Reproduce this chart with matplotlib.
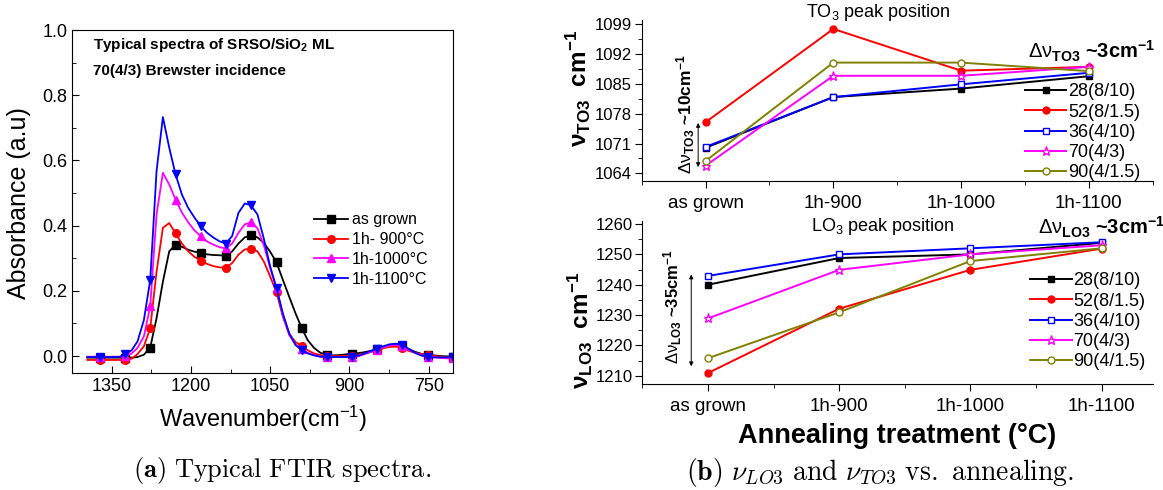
import matplotlib
matplotlib.use('Agg')
import matplotlib.pyplot as plt
import numpy as np

plt.rcParams['font.family'] = ['Liberation Sans', 'DejaVu Sans']
plt.rcParams['mathtext.fontset'] = 'custom'
plt.rcParams['mathtext.rm'] = 'Liberation Sans'
plt.rcParams['mathtext.it'] = 'Liberation Sans:italic'
plt.rcParams['mathtext.bf'] = 'Liberation Sans:bold'

# ---- data, panel (a): FTIR spectra
wn = [1396, 1384, 1372, 1360, 1348, 1336, 1324, 1312, 1301, 1289,
      1277, 1265, 1253, 1241, 1229, 1217, 1205, 1193, 1181, 1170,
      1158, 1146, 1134, 1122, 1110, 1098, 1086, 1074, 1062, 1050,
      1038, 1026, 1014, 1002, 990, 979, 967, 955, 943, 931,
      919, 907, 895, 883, 871, 859, 847, 836, 824, 812,
      800, 788, 776, 764, 752, 740, 728, 716, 704]

abs_grown = [-0.005, -0.005, -0.005, -0.005, -0.005, -0.005, -0.005, -0.005, -0.003, 0.004,
             0.026, 0.116, 0.228, 0.321, 0.342, 0.335, 0.326, 0.320, 0.316, 0.312,
             0.310, 0.309, 0.308, 0.321, 0.345, 0.364, 0.370, 0.364, 0.347, 0.320,
             0.287, 0.234, 0.182, 0.131, 0.085, 0.049, 0.025, 0.010, 0.004, 0.002,
             0.003, 0.005, 0.007, 0.009, 0.012, 0.016, 0.021, 0.027, 0.032, 0.034,
             0.031, 0.022, 0.013, 0.007, 0.004, 0.002, 0.0, -0.001, -0.002]

abs_900 = [-0.012, -0.012, -0.012, -0.012, -0.012, -0.012, -0.012, -0.008, 0.006, 0.030,
           0.085, 0.259, 0.393, 0.408, 0.376, 0.345, 0.321, 0.304, 0.293, 0.283,
           0.276, 0.272, 0.271, 0.285, 0.311, 0.327, 0.329, 0.321, 0.290, 0.244,
           0.195, 0.121, 0.068, 0.043, 0.030, 0.018, 0.008, 0.003, 0.001, 0.0,
           0.0, 0.0, 0.001, 0.004, 0.008, 0.013, 0.018, 0.024, 0.028, 0.029,
           0.024, 0.016, 0.010, 0.006, 0.004, 0.001, -0.002, -0.004, -0.005]

abs_1000 = [-0.002, -0.002, -0.002, -0.002, -0.002, -0.002, 0.0, 0.008, 0.025, 0.060,
            0.152, 0.434, 0.562, 0.526, 0.480, 0.440, 0.410, 0.385, 0.367, 0.352,
            0.342, 0.334, 0.330, 0.345, 0.378, 0.404, 0.410, 0.392, 0.340, 0.270,
            0.208, 0.125, 0.065, 0.035, 0.022, 0.010, 0.003, -0.002, -0.003, -0.003,
            -0.003, -0.003, -0.003, 0.0, 0.006, 0.013, 0.020, 0.027, 0.032, 0.034,
            0.030, 0.020, 0.010, 0.002, -0.002, -0.004, -0.006, -0.007, -0.007]

abs_1100 = [-0.003, -0.003, -0.003, -0.003, -0.003, -0.003, 0.005, 0.018, 0.045, 0.110,
            0.233, 0.567, 0.733, 0.639, 0.557, 0.495, 0.454, 0.424, 0.398, 0.379,
            0.364, 0.352, 0.345, 0.368, 0.439, 0.468, 0.462, 0.434, 0.360, 0.275,
            0.208, 0.131, 0.070, 0.034, 0.018, 0.008, 0.002, -0.002, -0.003, -0.003,
            -0.003, -0.003, -0.003, 0.001, 0.008, 0.016, 0.023, 0.030, 0.036, 0.038,
            0.034, 0.022, 0.010, 0.002, -0.003, -0.004, -0.004, -0.004, -0.004]

spec_labels = ['as grown', '1h- 900°C', '1h-1000°C', '1h-1100°C']

# ---- data, panel (b): peak positions
treatments = ['as grown', '1h-900', '1h-1000', '1h-1100']
samples = ['28(8/10)', '52(8/1.5)', '36(4/10)', '70(4/3)', '90(4/1.5)']
to3 = [[1070.0, 1081.9, 1083.9, 1086.8],
       [1076.0, 1097.9, 1088.1, 1089.0],
       [1070.2, 1081.9, 1084.9, 1087.6],
       [1065.8, 1086.9, 1086.9, 1089.0],
       [1066.9, 1090.0, 1090.0, 1088.0]]
lo3 = [[1240.0, 1248.8, 1250.0, 1253.8],
       [1210.9, 1232.1, 1244.9, 1251.9],
       [1242.9, 1250.0, 1252.0, 1254.0],
       [1228.9, 1244.9, 1250.0, 1253.0],
       [1215.8, 1230.9, 1247.8, 1252.0]]

# styles
spec_styles = [('k', 's'), ('#ff0000', 'o'), ('#ff00ff', '^'), ('#0000ff', 'v')]
samp_styles = [('k', 's', 'k'), ('#ff0000', 'o', '#ff0000'), ('#0000ff', 's', 'white'),
               ('#ff00ff', '*', 'white'), ('#808000', 'o', 'white')]

W, H = 1163, 490
fig = plt.figure(figsize=(W/100, H/100), dpi=100)

def rect(x0, y0, x1, y1):
    # pixel box -> figure fraction
    return [x0/W, 1-y1/H, (x1-x0)/W, (y1-y0)/H]

# ================= panel (a)
ax = fig.add_axes(rect(72, 30, 453, 373))
for ys, lab, (c, m) in zip([abs_grown, abs_900, abs_1000, abs_1100], spec_labels, spec_styles):
    ax.plot(wn, ys, color=c, lw=1.3, marker=m, ms=5.5, markevery=(2, 4), label=lab)
ax.set_xlim(1398, 704)
ax.set_ylim(-0.052, 1.0)
ax.set_xticks([1350, 1200, 1050, 900, 750])
ax.set_xticks(np.arange(1425, 700, -75), minor=True)
ax.set_yticks(np.arange(0, 1.01, 0.2))
ax.set_yticks(np.arange(0, 1.01, 0.1), minor=True)
ax.yaxis.set_major_formatter(matplotlib.ticker.FormatStrFormatter('%.1f'))
ax.tick_params(which='both', direction='in', labelsize=13)
ax.tick_params(which='major', length=5)
ax.tick_params(which='minor', length=3)
ax.text(0.055, 0.955, r'Typical spectra of SRSO/SiO$_\mathbf{2}$ ML', transform=ax.transAxes,
        fontsize=11, fontweight='bold', va='center')
ax.text(0.055, 0.88, '70(4/3) Brewster incidence', transform=ax.transAxes,
        fontsize=11, fontweight='bold', va='center')
ax.legend(loc='center left', bbox_to_anchor=(0.615, 0.36), frameon=False, fontsize=11.5,
          handlelength=2.1, handletextpad=0.25, labelspacing=0.3, borderpad=0)
fig.text(19/W, 1-203/H, 'Absorbance (a.u)', rotation=90, fontsize=18,
         ha='center', va='center')
fig.text(263/W, 1-419/H, r'Wavenumber(cm$^{-1}$)', fontsize=17, ha='center', va='center')

# ================= panel (b)
ax1 = fig.add_axes(rect(641.7, 20, 1152.7, 181))
ax2 = fig.add_axes(rect(642.3, 221, 1152.7, 384.3))
xi = np.arange(len(treatments))
for axx, data in [(ax1, to3), (ax2, lo3)]:
    for ys, lab, (c, m, fc) in zip(data, samples, samp_styles):
        axx.plot(xi, ys, color=c, lw=1.4, marker=m, ms=6.5 if m == '*' else 5,
                 mfc=fc, mec=c, mew=1.0, label=lab)
    axx.spines['top'].set_visible(False)
    axx.spines['right'].set_visible(False)
    axx.set_xticks(xi)
    axx.set_xticklabels(treatments)
    axx.set_xticks([-0.5, 0.5, 1.5, 2.5, 3.5], minor=True)
    axx.tick_params(which='both', direction='out')
    axx.tick_params(axis='x', which='major', labelsize=13.5, length=5, pad=5)
    axx.tick_params(axis='y', which='major', labelsize=12, length=5, pad=2)
    axx.tick_params(which='minor', length=3)
    axx.legend(loc='center left', frameon=False, fontsize=13, handlelength=2.3,
               handletextpad=0.1, labelspacing=0.18, borderpad=0,
               bbox_to_anchor=(0.732, 0.302) if axx is ax1 else (0.742, 0.385))

ax1.set_xlim(-0.5, 3.5)
ax1.set_ylim(1062.2, 1100)
ax1.set_yticks([1064, 1071, 1078, 1085, 1092, 1099])
ax1.set_yticks([1067.5, 1074.5, 1081.5, 1088.5, 1095.5], minor=True)
ax1.text(1.351, 1101.8, r'TO$_3$ peak position', fontsize=13, ha='center', va='center')
ax1.text(3.02, 1092.6, r'$\mathrm{Δν}_\mathbf{TO3}$ ~3cm$^\mathbf{-1}$', fontsize=14.5,
         fontweight='bold', ha='center', va='center')
ax1.text(-0.155, 1077.9, r'$\mathrm{Δν}_\mathbf{TO3}$ ~10cm$^\mathbf{-1}$', fontsize=12.5,
         fontweight='bold', rotation=90, ha='center', va='center')
ax1.annotate('', xy=(-0.058, 1064.8), xytext=(-0.058, 1076.5),
             arrowprops=dict(arrowstyle='<|-|>', color='k', lw=0.7, mutation_scale=6))

ax2.set_xlim(-0.5, 3.39)
ax2.set_ylim(1207.2, 1261)
ax2.set_yticks([1210, 1220, 1230, 1240, 1250, 1260])
ax2.set_yticks([1215, 1225, 1235, 1245, 1255], minor=True)
ax2.text(1.33, 1259.3, r'LO$_3$ peak position', fontsize=13, ha='center', va='center')
ax2.text(3.0, 1258.9, r'$\mathrm{Δν}_\mathbf{LO3}$ ~3cm$^\mathbf{-1}$', fontsize=14.5,
         fontweight='bold', ha='center', va='center')
ax2.text(-0.272, 1232.6, r'$\mathrm{Δν}_\mathbf{LO3}$ ~35cm$^\mathbf{-1}$', fontsize=12,
         fontweight='bold', rotation=90, ha='center', va='center')
ax2.annotate('', xy=(-0.127, 1212.2), xytext=(-0.127, 1244.3),
             arrowprops=dict(arrowstyle='<|-|>', color='k', lw=0.7, mutation_scale=6))

fig.text(578/W, 1-88/H, r'$\mathbf{ν_{TO3}\ \ cm^{-1}}$', fontsize=17.5, rotation=90,
         ha='center', va='center')
fig.text(580/W, 1-330/H, r'$\mathbf{ν_{LO3}\ \ cm^{-1}}$', fontsize=17.5, rotation=90,
         ha='center', va='center')
fig.text(897/W, 1-436/H, 'Annealing treatment (°C)', fontsize=19.5, fontweight='bold',
         ha='center', va='center')

# captions
fig.text(282/W, 1-470/H, r'$\mathbf{(a)}\ \mathrm{Typical\ FTIR\ spectra.}$',
         fontsize=19, ha='center', va='center', math_fontfamily='cm')
fig.text(880/W, 1-472/H,
         r'$\mathbf{(b)}\ \nu_{LO3}\ \mathrm{and}\ \nu_{TO3}\ \mathrm{vs.\ annealing.}$',
         fontsize=20, ha='center', va='center', math_fontfamily='cm')

fig.savefig('out.png', dpi=100)
